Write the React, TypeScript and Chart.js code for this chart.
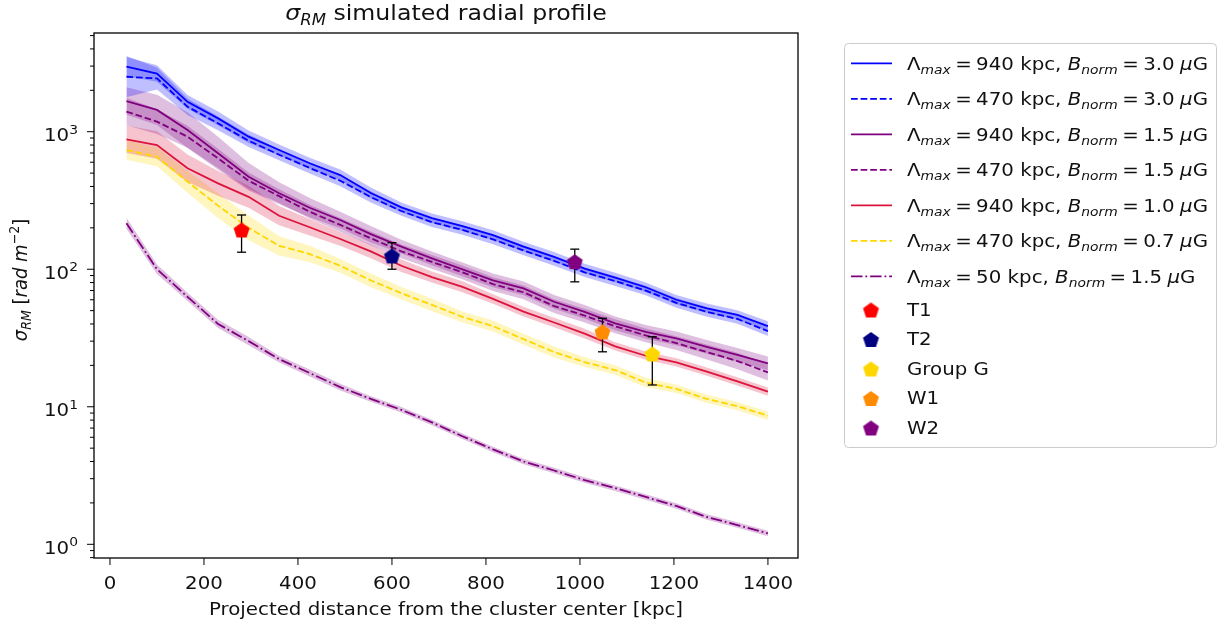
import React, { useEffect, useRef } from 'react';
import { Chart, registerables } from 'chart.js';

Chart.register(...registerables);

// Projected distance of the simulated profile samples [kpc]
const distanceKpc = [35, 100, 165, 230, 295, 360, 425, 490, 555, 620, 685, 750, 815, 880, 945, 1010, 1075, 1140, 1205, 1270, 1335, 1400];

// sigma_RM profiles [rad m^-2]
const sigmaL940B30 = [2970, 2650, 1650, 1250, 920, 736, 590, 484, 358, 282, 235, 206, 177, 146, 123, 101, 87, 74, 60, 52, 46.5, 38.6];
const sigmaL470B30 = [2510, 2440, 1520, 1150, 860, 680, 545, 440, 335, 265, 220, 193, 165, 137, 115, 95, 82, 70, 57, 49, 43.5, 35.5];
const sigmaL940B15 = [1670, 1440, 1029, 697, 471, 357, 280, 228, 180, 146, 120, 99.8, 83, 72.6, 58, 49, 40.4, 35, 31.4, 27.3, 23.8, 20.7];
const sigmaL470B15 = [1400, 1183, 920, 640, 440, 340, 262, 210, 168, 135, 113, 95, 78, 68, 54, 46, 38.5, 33, 29, 25, 21.5, 17.8];
const sigmaL940B10 = [881, 800, 542, 421, 336, 245, 202, 166, 135, 106, 87.7, 74.5, 60.8, 49.2, 41, 34, 27.5, 23.5, 21, 18, 15.3, 12.9];
const sigmaL470B07 = [736, 658, 433, 290, 200, 148, 129, 106, 83, 67, 55, 45, 38.6, 31, 25, 21.1, 18.5, 15.0, 13.5, 11.4, 10.1, 8.6];
const sigmaL50B15 = [216, 100, 63, 40, 30, 22.2, 17.6, 13.9, 11.4, 9.5, 7.7, 6.1, 4.9, 4.0, 3.44, 2.93, 2.56, 2.21, 1.9, 1.58, 1.38, 1.2];

// Half-width of the shaded scatter band around each profile [dex]
const spreadL940B30 = [0.07, 0.06, 0.05, 0.05, 0.045, 0.04, 0.04, 0.04, 0.04, 0.035, 0.035, 0.035, 0.035, 0.035, 0.035, 0.035, 0.035, 0.035, 0.035, 0.035, 0.035, 0.035];
const spreadL470B30 = [0.15, 0.08, 0.06, 0.05, 0.045, 0.04, 0.04, 0.04, 0.04, 0.035, 0.035, 0.035, 0.035, 0.035, 0.035, 0.035, 0.035, 0.035, 0.035, 0.035, 0.035, 0.035];
const spreadL940B15 = [0.1, 0.11, 0.13, 0.12, 0.1, 0.08, 0.07, 0.06, 0.06, 0.05, 0.05, 0.05, 0.05, 0.05, 0.05, 0.05, 0.05, 0.05, 0.05, 0.05, 0.05, 0.05];
const spreadL470B15 = [0.1, 0.09, 0.08, 0.07, 0.06, 0.05, 0.05, 0.05, 0.05, 0.05, 0.05, 0.05, 0.05, 0.05, 0.05, 0.05, 0.05, 0.05, 0.05, 0.055, 0.06, 0.06];
const spreadL940B10 = [0.1, 0.1, 0.1, 0.09, 0.08, 0.07, 0.06, 0.05, 0.05, 0.045, 0.04, 0.04, 0.035, 0.035, 0.035, 0.035, 0.03, 0.03, 0.03, 0.03, 0.03, 0.03];
const spreadL470B07 = [0.07, 0.07, 0.08, 0.09, 0.09, 0.07, 0.06, 0.05, 0.05, 0.045, 0.045, 0.04, 0.04, 0.04, 0.04, 0.035, 0.035, 0.035, 0.03, 0.03, 0.03, 0.03];
const spreadL50B15 = [0.04, 0.035, 0.03, 0.03, 0.03, 0.025, 0.025, 0.025, 0.02, 0.02, 0.02, 0.02, 0.02, 0.02, 0.02, 0.02, 0.02, 0.02, 0.02, 0.02, 0.02, 0.02];

// Model parameters shown in the legend
const lambdaMax = [940, 470, 940, 470, 940, 470, 50];
const bNorm = ['3.0', '3.0', '1.5', '1.5', '1.0', '0.7', '1.5'];

// Observed sources with error bars
const sourceNames = ['T1', 'T2', 'Group G', 'W1', 'W2'];
const sourceDistance = [280, 600, 1154, 1048, 989];
const sourceSigma = [193, 125, 24.2, 35.1, 113.5];
const sourceLow = [133, 100, 14.4, 25.1, 81];
const sourceHigh = [248, 156, 32.3, 44, 140];

// Axis ticks
const xTickValues = [0, 200, 400, 600, 800, 1000, 1200, 1400];
const yTickExponents = [0, 1, 2, 3];

const profiles = [sigmaL940B30, sigmaL470B30, sigmaL940B15, sigmaL470B15, sigmaL940B10, sigmaL470B07, sigmaL50B15];
const spreads = [spreadL940B30, spreadL470B30, spreadL940B15, spreadL470B15, spreadL940B10, spreadL470B07, spreadL50B15];

// Styling
const FONT = '"DejaVu Sans", sans-serif';
const TEXT = '#111111';
const SX = 1.1; // horizontal glyph stretch of all text
const lineColors = ['#0000ff', '#0000ff', '#800080', '#800080', '#dc143c', '#ffd700', '#800080'];
const DASHED = [6.7, 2.9];
const lineDashes: number[][] = [[], DASHED, [], DASHED, [], DASHED, [11.5, 2.9, 1.8, 2.9]];
const sourceColors = ['#ff0000', '#000080', '#ffd700', '#ff8c00', '#800080'];
const BAND_ALPHA = 0.25;

function rgba(hex: string, a: number) {
  const n = parseInt(hex.slice(1), 16);
  return `rgba(${(n >> 16) & 255},${(n >> 8) & 255},${n & 255},${a})`;
}

function pentagon(color: string, r: number): HTMLCanvasElement {
  const size = Math.ceil(r * 2) + 4;
  const c = document.createElement('canvas');
  c.width = size;
  c.height = size;
  const g = c.getContext('2d')!;
  const cx = size / 2;
  const cy = size / 2 + r * 0.095;
  g.beginPath();
  for (let k = 0; k < 5; k++) {
    const ang = -Math.PI / 2 + (k * 2 * Math.PI) / 5;
    const px = cx + r * Math.cos(ang);
    const py = cy + r * Math.sin(ang);
    if (k === 0) g.moveTo(px, py);
    else g.lineTo(px, py);
  }
  g.closePath();
  g.fillStyle = color;
  g.fill();
  return c;
}

// Rich text pieces: plain, italic, sub/superscript, or an explicit gap in px
type Seg = { t?: string; it?: boolean; sub?: boolean; sup?: boolean; gap?: number };

function segFont(s: Seg, size: number) {
  const sz = s.sub || s.sup ? size * 0.7 : size;
  return `${s.it ? 'italic ' : ''}${sz}px ${FONT}`;
}

function segWidth(ctx: CanvasRenderingContext2D, s: Seg, size: number, sx: number) {
  if (s.gap !== undefined) return s.gap * sx;
  ctx.font = segFont(s, size);
  return ctx.measureText(s.t || '').width * sx;
}

function drawRich(
  ctx: CanvasRenderingContext2D,
  segs: Seg[],
  x: number,
  y: number,
  size: number,
  align: 'left' | 'center' | 'right',
  sx: number = SX
) {
  let w = 0;
  for (const s of segs) w += segWidth(ctx, s, size, sx);
  let cx = align === 'center' ? x - w / 2 : align === 'right' ? x - w : x;
  ctx.textAlign = 'left';
  ctx.textBaseline = 'alphabetic';
  for (const s of segs) {
    if (s.gap === undefined) {
      ctx.font = segFont(s, size);
      const dy = s.sub ? size * 0.22 : s.sup ? -size * 0.42 : 0;
      ctx.save();
      ctx.translate(cx, y + dy);
      ctx.scale(sx, 1);
      ctx.fillText(s.t || '', 0, 0);
      ctx.restore();
    }
    cx += segWidth(ctx, s, size, sx);
  }
}

function modelLabel(i: number): Seg[] {
  return [
    { t: 'Λ' },
    { t: 'max', it: true, sub: true },
    { gap: 4 },
    { t: '=' },
    { gap: 4 },
    { t: String(lambdaMax[i]) },
    { t: ' kpc, ' },
    { t: 'B', it: true },
    { t: 'norm', it: true, sub: true },
    { gap: 4 },
    { t: '=' },
    { gap: 4 },
    { t: bNorm[i] },
    { gap: 5 },
    { t: 'μ', it: true },
    { t: 'G' },
  ];
}

const markerImages = sourceColors.map((c) => pentagon(c, 8.4));

function buildDatasets() {
  const sets: any[] = [];
  // observed sources (top layer)
  sourceNames.forEach((name, i) => {
    sets.push({
      label: name,
      data: [{ x: sourceDistance[i], y: sourceSigma[i] }],
      showLine: false,
      pointStyle: markerImages[i],
      pointRadius: 8,
      borderColor: sourceColors[i],
      backgroundColor: sourceColors[i],
    });
  });
  // error bars with caps
  sourceNames.forEach((name, i) => {
    sets.push({
      label: name + ' error',
      data: [
        { x: sourceDistance[i], y: sourceLow[i] },
        { x: sourceDistance[i], y: sourceHigh[i] },
      ],
      borderColor: '#000',
      borderWidth: 1.3,
      pointStyle: 'line',
      pointRadius: 4.5,
      pointBorderWidth: 1.3,
      pointBorderColor: '#000',
      pointBackgroundColor: '#000',
    });
  });
  // model profiles
  profiles.forEach((vals, i) => {
    sets.push({
      label: 'model ' + i,
      data: vals.map((v, k) => ({ x: distanceKpc[k], y: v })),
      borderColor: lineColors[i],
      borderWidth: 1.8,
      borderDash: lineDashes[i],
      pointRadius: 0,
      tension: 0,
      fill: false,
    });
  });
  // scatter bands (bottom layer): upper edge filled down to lower edge
  profiles.forEach((vals, i) => {
    const upperIndex = sets.length;
    sets.push({
      label: 'band upper ' + i,
      data: vals.map((v, k) => ({ x: distanceKpc[k], y: v * Math.pow(10, spreads[i][k]) })),
      borderWidth: 0,
      borderColor: 'rgba(0,0,0,0)',
      pointRadius: 0,
      tension: 0,
      fill: upperIndex + 1,
      backgroundColor: rgba(lineColors[i], BAND_ALPHA),
    });
    sets.push({
      label: 'band lower ' + i,
      data: vals.map((v, k) => ({ x: distanceKpc[k], y: v / Math.pow(10, spreads[i][k]) })),
      borderWidth: 0,
      borderColor: 'rgba(0,0,0,0)',
      pointRadius: 0,
      tension: 0,
      fill: false,
    });
  });
  return sets;
}

const decorations = {
  id: 'decorations',
  afterDraw(chart: any) {
    const { ctx, chartArea: a } = chart;
    const xs = chart.scales.x;
    const ys = chart.scales.y;
    ctx.save();

    const seg = (x1: number, y1: number, x2: number, y2: number) => {
      ctx.beginPath();
      ctx.moveTo(x1, y1);
      ctx.lineTo(x2, y2);
      ctx.stroke();
    };

    // tick marks and tick labels
    ctx.strokeStyle = '#000';
    ctx.lineWidth = 1;
    ctx.fillStyle = TEXT;
    xTickValues.forEach((v) => {
      const px = xs.getPixelForValue(v);
      seg(px, a.bottom, px, a.bottom + 7);
      drawRich(ctx, [{ t: String(v) }], px, a.bottom + 30.5, 18, 'center');
    });
    const yMin = ys.min;
    const yMax = ys.max;
    for (let e = -1; e <= 4; e++) {
      for (let m = 1; m <= 9; m++) {
        const v = m * Math.pow(10, e);
        if (v < yMin || v > yMax) continue;
        const py = ys.getPixelForValue(v);
        seg(a.left - (m === 1 ? 7 : 4), py, a.left, py);
      }
    }
    yTickExponents.forEach((e) => {
      const py = ys.getPixelForValue(Math.pow(10, e));
      drawRich(ctx, [{ t: '10' }, { t: String(e), sup: true }], a.left - 16, py + 9.5, 18, 'right');
    });

    // frame
    ctx.lineWidth = 1.3;
    ctx.strokeRect(a.left, a.top, a.right - a.left, a.bottom - a.top);

    // axis titles and chart title
    const midX = (a.left + a.right) / 2;
    drawRich(ctx, [{ t: 'Projected distance from the cluster center [kpc]' }], midX, a.bottom + 57, 18, 'center');
    drawRich(ctx, [{ t: 'σ', it: true }, { t: 'RM', it: true, sub: true }, { t: ' simulated radial profile' }], midX, a.top - 13, 21.5, 'center');
    ctx.save();
    ctx.translate(a.left - 67, 280);
    ctx.rotate(-Math.PI / 2);
    ctx.scale(1, SX);
    drawRich(
      ctx,
      [
        { t: 'σ', it: true },
        { t: 'RM', it: true, sub: true },
        { t: ' [' },
        { t: 'rad m', it: true },
        { t: '−2', sup: true },
        { t: ']' },
      ],
      0,
      0,
      18,
      'center',
      1
    );
    ctx.restore();

    // legend box
    const L = 844;
    const T = 43;
    const W = 372;
    const H = 404;
    ctx.beginPath();
    ctx.roundRect(L + 0.5, T + 0.5, W, H, 4);
    ctx.fillStyle = 'rgba(255,255,255,0.8)';
    ctx.fill();
    ctx.strokeStyle = '#cccccc';
    ctx.lineWidth = 1;
    ctx.stroke();

    const handleX0 = 851;
    const handleX1 = 892;
    const textX = 907;
    const cap = 18 * 0.729;
    profiles.forEach((_, i) => {
      const cy = 63.3 + i * 35.5;
      ctx.strokeStyle = lineColors[i];
      ctx.lineWidth = 1.8;
      ctx.setLineDash(lineDashes[i]);
      seg(handleX0, cy, handleX1, cy);
      ctx.setLineDash([]);
      ctx.fillStyle = TEXT;
      drawRich(ctx, modelLabel(i), textX, cy + cap / 2, 18, 'left');
    });
    sourceNames.forEach((name, i) => {
      const cy = 310 + i * 29.5;
      const img = markerImages[i];
      ctx.drawImage(img, 871 - img.width / 2, cy - img.height / 2);
      ctx.fillStyle = TEXT;
      drawRich(ctx, [{ t: name }], textX, cy + cap / 2 - 1, 18, 'left');
    });

    ctx.restore();
  },
};

export default function App() {
  const ref = useRef<HTMLCanvasElement>(null);
  useEffect(() => {
    const chart = new Chart(ref.current!, {
      type: 'line',
      data: { datasets: buildDatasets() },
      options: {
        animation: false,
        responsive: false,
        maintainAspectRatio: false,
        events: [],
        layout: { padding: { left: 0, top: 33, right: 422, bottom: 0 } },
        plugins: {
          legend: { display: false },
          title: { display: false },
          tooltip: { enabled: false },
        },
        scales: {
          x: {
            type: 'linear',
            min: -34,
            max: 1464,
            grid: { display: false },
            border: { display: false },
            ticks: { display: false },
            afterFit: (s: any) => {
              s.height = 70;
            },
          },
          y: {
            type: 'logarithmic',
            min: 0.795,
            max: 5221,
            grid: { display: false },
            border: { display: false },
            ticks: { display: false },
            afterFit: (s: any) => {
              s.width = 94;
            },
          },
        },
      } as any,
      plugins: [decorations],
    });
    return () => chart.destroy();
  }, []);
  return (
    <div style={{ position: 'fixed', left: 0, top: 0, width: 1220, height: 628, background: '#ffffff' }}>
      <canvas ref={ref} width={1220} height={628} style={{ display: 'block' }} />
    </div>
  );
}
